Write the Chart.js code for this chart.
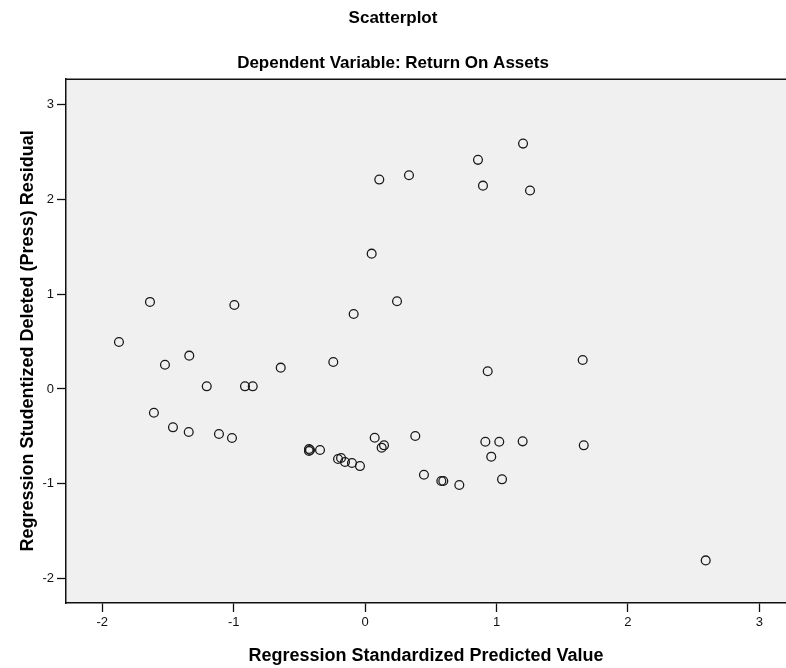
<!DOCTYPE html>
<html>
<head>
<meta charset="utf-8">
<script src="https://cdn.jsdelivr.net/npm/chart.js@4"></script>
<style>
  html, body { margin: 0; padding: 0; background: #fff; }
  #wrap { width: 786px; height: 668px; }
</style>
</head>
<body>
<div id="wrap"><canvas id="myChart" width="786" height="668"></canvas></div>
<script>
// regression standardized predicted value (x) vs studentized deleted residual (y)
var predicted = [
  -1.873, -1.637, -1.607, -1.523, -1.462, -1.342, -1.338, -1.205, -1.112, -1.013,
  -0.995, -0.914, -0.855, -0.642, -0.427, -0.427, -0.419, -0.343, -0.242, -0.206,
  -0.183, -0.153, -0.100, -0.039, -0.087, 0.050, 0.108, 0.334, 0.243, 0.073,
  0.126, 0.144, 0.382, 0.448, 0.580, 0.595, 0.717, 0.915, 0.960, 1.021,
  1.042, 1.199, 1.664, 0.933, 1.656, 0.859, 0.897, 1.202, 1.255, 2.592
];
var residual = [
  0.496, 0.919, -0.251, 0.256, -0.405, -0.454, 0.352, 0.028, -0.476, -0.518,
  0.887, 0.028, 0.028, 0.225, -0.634, -0.655, -0.645, -0.645, 0.285, -0.740,
  -0.729, -0.771, -0.782, -0.814, 0.792, 1.429, 2.211, 2.257, 0.926, -0.515,
  -0.620, -0.595, -0.497, -0.906, -0.972, -0.972, -1.014, -0.557, -0.715, -0.557,
  -0.954, -0.553, -0.595, 0.187, 0.306, 2.419, 2.147, 2.591, 2.095, -1.810
];
var xTicks = [-2, -1, 0, 1, 2, 3];
var yTicks = [-2, -1, 0, 1, 2, 3];

var points = predicted.map(function (x, i) {
  return { x: x, y: residual[i] };
});

// grey plot background and frame
var plotFrame = {
  id: "plotFrame",
  beforeDraw: function (chart) {
    var a = chart.chartArea, c = chart.ctx;
    c.save();
    c.fillStyle = "#f0f0f0";
    c.fillRect(a.left, a.top, a.right - a.left, a.bottom - a.top);
    c.restore();
  },
  afterDraw: function (chart) {
    var a = chart.chartArea, c = chart.ctx;
    c.save();
    c.strokeStyle = "#111";
    c.lineWidth = 1.5;
    c.beginPath();
    c.moveTo(a.left, a.top + 0.5);
    c.lineTo(a.right, a.top + 0.5);
    c.stroke();
    c.restore();
  }
};

var tickFont = { family: "'Liberation Sans', Arial, sans-serif", size: 13 };
var titleFont = { family: "'Liberation Sans', Arial, sans-serif", size: 17, weight: "bold" };
var axisTitleFont = { family: "'Liberation Sans', Arial, sans-serif", size: 18, weight: "bold" };

var ctx = document.getElementById("myChart").getContext("2d");
var chart = new Chart(ctx, {
  type: "scatter",
  data: {
    datasets: [{
      data: points,
      pointStyle: "circle",
      pointRadius: 4.4,
      pointHoverRadius: 4.4,
      pointBorderWidth: 1.3,
      pointBorderColor: "#1a1a1a",
      pointBackgroundColor: "rgba(0,0,0,0)"
    }]
  },
  options: {
    responsive: false,
    animation: false,
    layout: { padding: 0, autoPadding: false },
    plugins: {
      legend: { display: false },
      tooltip: { enabled: false },
      title: {
        display: true,
        text: "Scatterplot",
        color: "#000",
        font: titleFont,
        padding: { top: 8, bottom: 13 }
      },
      subtitle: {
        display: true,
        text: "Dependent Variable: Return On Assets",
        color: "#000",
        font: titleFont,
        padding: { top: 12, bottom: 5 }
      }
    },
    scales: {
      x: {
        type: "linear",
        min: -2.276,
        max: 3.203,
        afterBuildTicks: function (s) { s.ticks = xTicks.map(function (v) { return { value: v }; }); },
        afterFit: function (s) { s.height = 65; s.paddingLeft = 0; s.paddingRight = 0; },
        grid: { drawOnChartArea: false, drawTicks: true, tickLength: 9, tickWidth: 1.3, tickColor: "#111" },
        border: { display: true, color: "#111", width: 1.5 },
        ticks: { color: "#111", font: tickFont, padding: 3, maxRotation: 0 },
        title: {
          display: true,
          text: "Regression Standardized Predicted Value",
          color: "#000",
          font: axisTitleFont,
          padding: { top: 0, bottom: 1 }
        }
      },
      y: {
        type: "linear",
        min: -2.26,
        max: 3.275,
        afterBuildTicks: function (s) { s.ticks = yTicks.map(function (v) { return { value: v }; }); },
        afterFit: function (s) { s.width = 66; s.paddingTop = 0; s.paddingBottom = 0; },
        grid: { drawOnChartArea: false, drawTicks: true, tickLength: 9, tickWidth: 1.3, tickColor: "#111" },
        border: { display: true, color: "#111", width: 1.5 },
        ticks: { color: "#111", font: tickFont, padding: 3 },
        title: {
          display: true,
          text: "Regression Studentized Deleted (Press) Residual",
          color: "#000",
          font: axisTitleFont,
          padding: { top: 17, bottom: 0 }
        }
      }
    }
  },
  plugins: [plotFrame]
});
</script>
</body>
</html>
